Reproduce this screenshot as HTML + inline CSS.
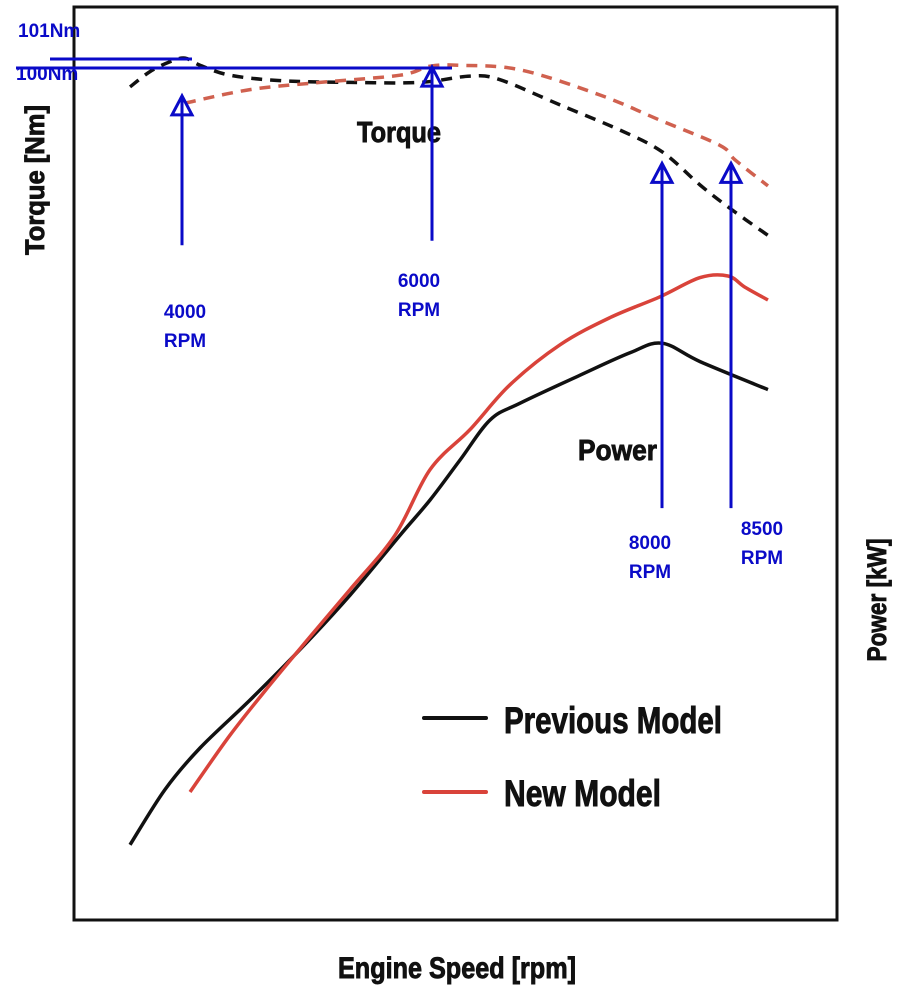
<!DOCTYPE html>
<html><head><meta charset="utf-8"><style>
html,body{margin:0;padding:0;background:#fff;}
svg{display:block;}
.lbl{font-family:"Liberation Sans",sans-serif;font-weight:bold;fill:#111;stroke:#111;stroke-width:0.9;}
.blue{font-family:"Liberation Sans",sans-serif;fill:#0a0ac8;font-size:19px;font-weight:bold;}
</style></head><body>
<svg id="chart" width="901" height="990" viewBox="0 0 901 990">
<rect x="74" y="7" width="763" height="913" fill="none" stroke="#111" stroke-width="3"/>
<g id="series"></g>
<text class="lbl" x="0" y="0" font-size="27" transform="translate(44,180) rotate(-90)" text-anchor="middle" textLength="150" lengthAdjust="spacingAndGlyphs">Torque [Nm]</text>
<text class="lbl" x="0" y="0" font-size="27" transform="translate(886,600) rotate(-90)" text-anchor="middle" textLength="123" lengthAdjust="spacingAndGlyphs">Power [kW]</text>
<text class="lbl" x="457" y="978" font-size="30" text-anchor="middle" textLength="238" lengthAdjust="spacingAndGlyphs">Engine Speed [rpm]</text>
<text class="lbl" x="357" y="142" font-size="29" textLength="84" lengthAdjust="spacingAndGlyphs">Torque</text>
<text class="lbl" x="578" y="460" font-size="29" textLength="79" lengthAdjust="spacingAndGlyphs">Power</text>
<g>
<line x1="424" y1="718" x2="486" y2="718" stroke="#111" stroke-width="4" stroke-linecap="round"/>
<text class="lbl" x="504" y="733" font-size="37" textLength="218" lengthAdjust="spacingAndGlyphs">Previous Model</text>
<line x1="424" y1="792" x2="486" y2="792" stroke="#d9433a" stroke-width="4" stroke-linecap="round"/>
<text class="lbl" x="504" y="806" font-size="37" textLength="157" lengthAdjust="spacingAndGlyphs">New Model</text>
</g>
<g id="annot">
<line x1="50" y1="59" x2="192" y2="59" stroke="#0a0ac8" stroke-width="3"/>
<line x1="16" y1="68" x2="452" y2="68" stroke="#0a0ac8" stroke-width="3"/>
<text class="blue" x="18" y="37">101Nm</text>
<text class="blue" x="16" y="80">100Nm</text>
<text class="blue" x="185" y="318" text-anchor="middle"><tspan x="185">4000</tspan><tspan x="185" dy="29">RPM</tspan></text>
<text class="blue" x="419" y="287" text-anchor="middle"><tspan x="419">6000</tspan><tspan x="419" dy="29">RPM</tspan></text>
<text class="blue" x="650" y="549" text-anchor="middle"><tspan x="650">8000</tspan><tspan x="650" dy="29">RPM</tspan></text>
<text class="blue" x="762" y="535" text-anchor="middle"><tspan x="762">8500</tspan><tspan x="762" dy="29">RPM</tspan></text>
</g>
</svg>
<script>
var prevTorqueRpm=[3567,3733,3900,4025,4150,4400,4817,5400,5983,6400,6650,7150,7650,8000,8317,8567,8883];
var prevTorqueNm=[97.9,99.6,100.7,101.1,100.3,99.2,98.6,98.4,98.4,99.1,98.7,95.9,93.1,90.7,87.0,84.4,81.4];
var newTorqueRpm=[4025,4567,5150,5817,6067,6317,6817,7483,7983,8483,8608,8883];
var newTorqueNm=[96.1,97.6,98.4,99.2,100.2,100.3,99.8,97.0,94.2,91.4,89.8,86.9];
var prevPowerRpm=[3567,3858,4150,4567,4983,5400,5817,6067,6317,6567,6817,7317,7733,8000,8317,8883];
var prevPowerKw=[9.4,16.3,21.5,27.5,33.8,40.6,48.1,52.5,57.5,62.5,64.6,68.1,70.9,72.1,69.8,66.3];
var newPowerRpm=[4067,4400,4733,5067,5400,5775,6067,6400,6733,7150,7567,7983,8317,8550,8692,8883];
var newPowerKw=[16,23.1,29.4,35.4,41.3,48.1,56.3,61.3,66.9,71.9,75.3,77.9,80.3,80.5,79.1,77.5];
var arrowRpm=[4000,6000,8000,8500];
var arrowTopNm=[96.9,100.1,89.4,89.4];
var arrowBottomNm=[80.3,80.8,51.1,51.1];

function xS(r){return 182+(r-4000)*0.12;}
function yT(nm){return 68-(nm-100)*9;}
function yP(kw){return 920-kw*8;}
function smooth(pts){
 var d='M'+pts[0][0]+','+pts[0][1];
 for(var i=0;i<pts.length-1;i++){
  var p0=pts[Math.max(i-1,0)],p1=pts[i],p2=pts[i+1],p3=pts[Math.min(i+2,pts.length-1)];
  var c1=[p1[0]+(p2[0]-p0[0])/6,p1[1]+(p2[1]-p0[1])/6];
  var c2=[p2[0]-(p3[0]-p1[0])/6,p2[1]-(p3[1]-p1[1])/6];
  d+=' C'+c1[0]+','+c1[1]+' '+c2[0]+','+c2[1]+' '+p2[0]+','+p2[1];
 }
 return d;
}
var NS='http://www.w3.org/2000/svg';
var g=document.getElementById('series');
function addPath(xs,ys,yf,color,dash,name){
 var p=document.createElementNS(NS,'path');
 p.setAttribute('d',smooth(xs.map(function(r,i){return [xS(r),yf(ys[i])];})));
 p.setAttribute('fill','none');p.setAttribute('stroke',color);p.setAttribute('stroke-width','3.5');
 if(dash)p.setAttribute('stroke-dasharray','11 8');
 
 
 g.appendChild(p);
}
addPath(prevTorqueRpm,prevTorqueNm,yT,'#111',true,'torque-line-previous');
addPath(newTorqueRpm,newTorqueNm,yT,'#d0614f',true,'torque-line-new');
addPath(prevPowerRpm,prevPowerKw,yP,'#111',false,'power-line-previous');
addPath(newPowerRpm,newPowerKw,yP,'#d9433a',false,'power-line-new');
var an=document.getElementById('annot');
var xOff=[0,10,0,9];
arrowRpm.forEach(function(r,i){
 var x=xS(r)+xOff[i];
 var y=yT(arrowTopNm[i]);
 var l=document.createElementNS(NS,'line');
 l.setAttribute('x1',x);l.setAttribute('x2',x);l.setAttribute('y1',y);l.setAttribute('y2',yT(arrowBottomNm[i]));
 l.setAttribute('stroke','#0a0ac8');l.setAttribute('stroke-width','3');
 
 
 an.appendChild(l);
 var t=document.createElementNS(NS,'polygon');
 t.setAttribute('points',x+','+y+' '+(x-10)+','+(y+19)+' '+(x+10)+','+(y+19));
 t.setAttribute('fill','none');t.setAttribute('stroke','#0a0ac8');t.setAttribute('stroke-width','3');
 
 
 an.appendChild(t);
});
</script>
</body></html>
